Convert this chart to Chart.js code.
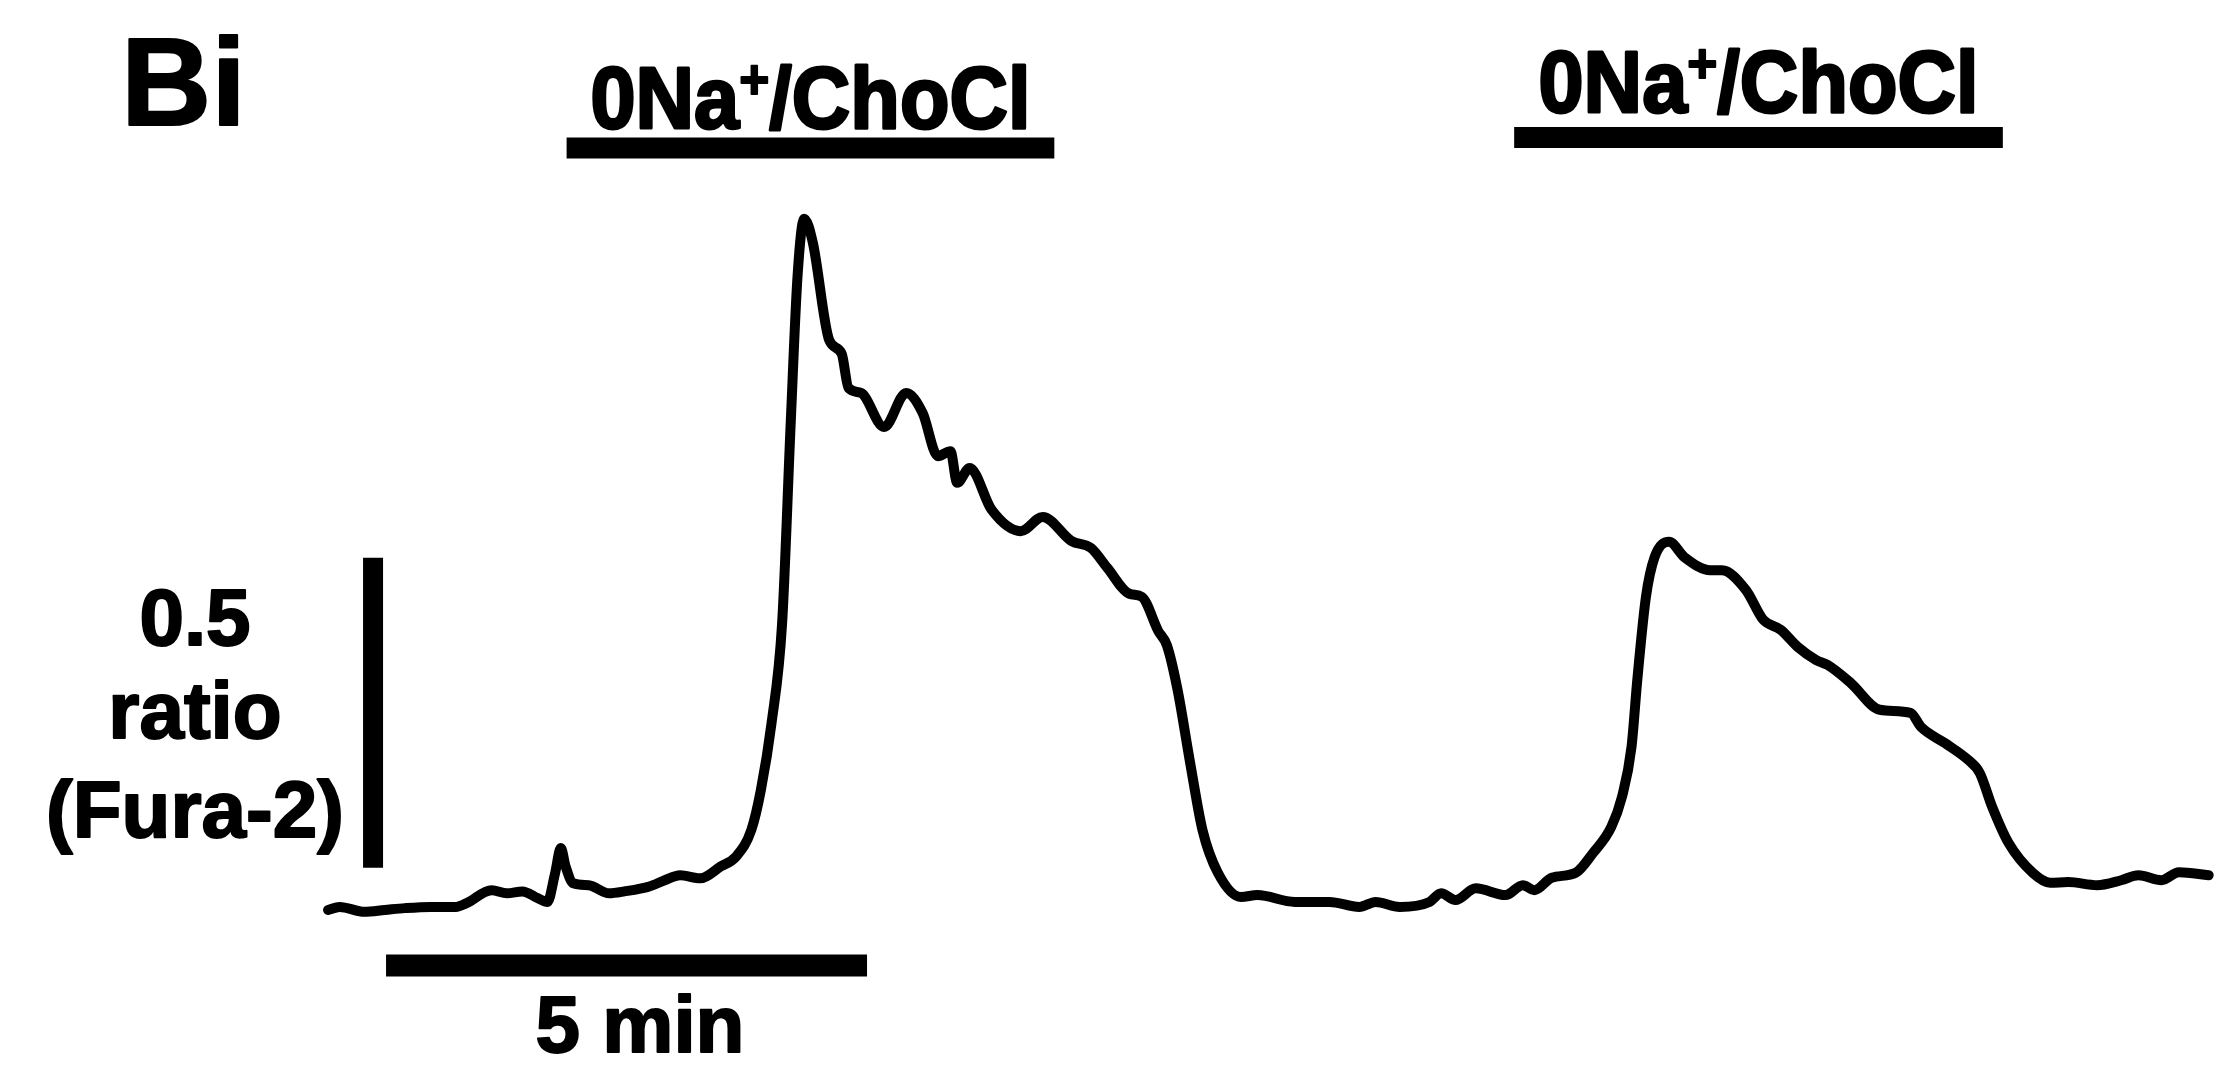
<!DOCTYPE html>
<html>
<head>
<meta charset="utf-8">
<script src="https://cdn.jsdelivr.net/npm/chart.js@4.4.1/dist/chart.umd.min.js"></script>
<style>
  html, body { margin: 0; padding: 0; background: #fff; }
  #wrap { width: 2219px; height: 1080px; }
</style>
</head>
<body>
<div id="wrap"><canvas id="traceChart" width="2219" height="1080"></canvas></div>
<script>
//------------------------------------------------------
// DATA  (time in min, Fura-2 ratio change from baseline)
//------------------------------------------------------
const traceTime = [
  0.00, 0.12, 0.38, 0.59, 0.80, 1.07, 1.33, 1.44, 1.70, 1.86, 2.02, 2.18, 2.28, 2.36, 2.42, 2.47,
  2.55, 2.71, 2.92, 3.08, 3.34, 3.50, 3.66, 3.87, 4.08, 4.24, 4.40, 4.50, 4.61, 4.72, 4.81, 4.88,
  4.95, 5.04, 5.21, 5.34, 5.41, 5.54, 5.78, 6.01, 6.18, 6.34, 6.47, 6.54, 6.67, 6.90, 7.20, 7.43,
  7.73, 7.93, 8.10, 8.33, 8.46, 8.63, 8.72, 8.83, 8.96, 9.09, 9.25, 9.49, 9.66, 10.05,
  10.41, 10.72, 10.89, 11.14, 11.45, 11.57, 11.72, 11.93, 12.24, 12.42, 12.54, 12.72, 12.97, 13.15,
  13.34, 13.45, 13.55, 13.61, 13.70, 13.79, 13.94, 14.10, 14.37, 14.49, 14.74, 14.92, 15.10, 15.28,
  15.47, 15.59, 15.83, 16.13, 16.45, 16.56, 16.81, 17.05, 17.17, 17.30, 17.47, 17.72, 17.90, 18.09,
  18.39, 18.64, 18.82, 19.06, 19.24, 19.55
];
const traceRatio = [
  0.000, 0.005, -0.003, 0.000, 0.003, 0.005, 0.005, 0.011, 0.032, 0.027, 0.030, 0.019, 0.013, 0.059, 0.100, 0.070,
  0.043, 0.040, 0.027, 0.030, 0.038, 0.048, 0.056, 0.051, 0.070, 0.086, 0.129, 0.194, 0.301, 0.462, 0.787, 1.021,
  1.115, 1.076, 0.919, 0.897, 0.842, 0.834, 0.779, 0.834, 0.802, 0.732, 0.740, 0.689, 0.713, 0.645, 0.611, 0.634,
  0.595, 0.584, 0.552, 0.510, 0.505, 0.450, 0.427, 0.356, 0.239, 0.129, 0.060, 0.021, 0.024, 0.013,
  0.013, 0.005, 0.013, 0.005, 0.013, 0.027, 0.016, 0.035, 0.024, 0.040, 0.032, 0.052, 0.060, 0.092,
  0.134, 0.182, 0.263, 0.371, 0.505, 0.569, 0.594, 0.569, 0.548, 0.548, 0.516, 0.468, 0.452, 0.424,
  0.403, 0.395, 0.366, 0.323, 0.318, 0.295, 0.269, 0.242, 0.221, 0.166, 0.108, 0.060, 0.044, 0.045,
  0.040, 0.048, 0.056, 0.048, 0.061, 0.056
];

// solution application periods (min)
const solutionLabel = ['0Na+/ChoCl', '0Na+/ChoCl'];
const solutionStart = [2.48, 12.33];
const solutionEnd   = [7.55, 17.41];

// scale bars
const ratioBarSize = 0.5;   // ratio units
const timeBarSize  = 5;     // min
const ratioBarLabel = ['0.5', 'ratio', '(Fura-2)'];
const timeBarLabel  = '5 min';
const panelLabel    = 'Bi';

//------------------------------------------------------
// CHART
//------------------------------------------------------
const FONT = '"Liberation Sans", Arial, Helvetica, sans-serif';

const barLine = (pts, width) => ({
  data: pts,
  borderColor: '#000',
  borderWidth: width,
  borderCapStyle: 'butt',
  pointRadius: 0,
  fill: false,
  clip: false
});

const solutionBars = solutionStart.map((s, i) =>
  barLine([{ x: s, y: [1.229, 1.246][i] }, { x: solutionEnd[i], y: [1.229, 1.246][i] }], 21));

// bold text, slightly heavier (the figure is a blurry scan)
const heavyText = (c, t, x, y, w) => {
  c.lineWidth = w;
  c.lineJoin = 'round';
  c.strokeText(t, x, y);
  c.fillText(t, x, y);
};

// text drawn in data coordinates
const textPlugin = {
  id: 'figText',
  afterDatasetsDraw(chart) {
    const c = chart.ctx, xs = chart.scales.x, ys = chart.scales.y;
    const px = v => xs.getPixelForValue(v), py = v => ys.getPixelForValue(v);
    c.save();
    c.fillStyle = '#000';
    c.strokeStyle = '#000';
    c.textBaseline = 'alphabetic';

    // panel label
    c.font = 'bold 125px ' + FONT;
    c.textAlign = 'left';
    heavyText(c, panelLabel, px(-2.152), py(1.266), 2);

    // solution labels, a bit condensed, with superscript +
    const labelY = [1.261, 1.287];
    solutionLabel.forEach((lab, i) => {
      const parts = lab.split('+');
      c.font = 'bold 88px ' + FONT;
      const w1 = c.measureText(parts[0]).width;
      const w3 = c.measureText(parts[1]).width;
      c.font = 'bold 56px ' + FONT;
      const w2 = c.measureText('+').width;
      const total = w1 + w2 + w3;
      const sx = 440 / total;
      const cx = px((solutionStart[i] + solutionEnd[i]) / 2);
      const by = py(labelY[i]);
      c.save();
      c.translate(cx - 220, by);
      c.scale(sx, 1);
      c.textAlign = 'left';
      c.font = 'bold 88px ' + FONT;
      heavyText(c, parts[0], 0, 0, 3);
      c.font = 'bold 56px ' + FONT;
      heavyText(c, '+', w1, -30, 2);
      c.font = 'bold 88px ' + FONT;
      heavyText(c, parts[1], w1 + w2, 0, 3);
      c.restore();
    });

    // ratio scale bar label
    c.font = 'bold 80px ' + FONT;
    c.textAlign = 'center';
    const rY = [0.427, 0.277, 0.118];
    ratioBarLabel.forEach((t, i) => heavyText(c, t, px(-1.383), py(rY[i]), 2));

    // time scale bar label
    heavyText(c, timeBarLabel, px(3.243), py(-0.229), 2);
    c.restore();
  }
};

var traceConfig = {
  type: 'line',
  data: {
    datasets: [
      {
        label: 'Fura-2 ratio',
        data: traceTime.map((t, i) => ({ x: t, y: traceRatio[i] })),
        borderColor: '#000',
        borderWidth: 10,
        pointRadius: 0,
        cubicInterpolationMode: 'monotone',
        borderJoinStyle: 'round',
        borderCapStyle: 'round',
        fill: false,
        clip: false
      },
      // vertical scale bar (0.5 ratio)
      barLine([{ x: 0.468, y: 0.068 }, { x: 0.468, y: 0.068 + ratioBarSize }], 20),
      // horizontal scale bar (5 min)
      barLine([{ x: 0.603, y: -0.0895 }, { x: 0.603 + timeBarSize, y: -0.0895 }], 22),
      ...solutionBars
    ]
  },
  options: {
    responsive: false,
    animation: false,
    devicePixelRatio: 1,
    layout: { padding: 0 },
    plugins: {
      legend: { display: false },
      tooltip: { enabled: false },
      title: { display: false }
    },
    scales: {
      x: { type: 'linear', min: -3.41, max: 19.657, display: false },
      y: { type: 'linear', min: -0.2742, max: 1.4677, display: false }
    }
  },
  plugins: [textPlugin]
};

const ctx = document.getElementById('traceChart').getContext('2d');
var traceChart = new Chart(ctx, traceConfig);
</script>
</body>
</html>
